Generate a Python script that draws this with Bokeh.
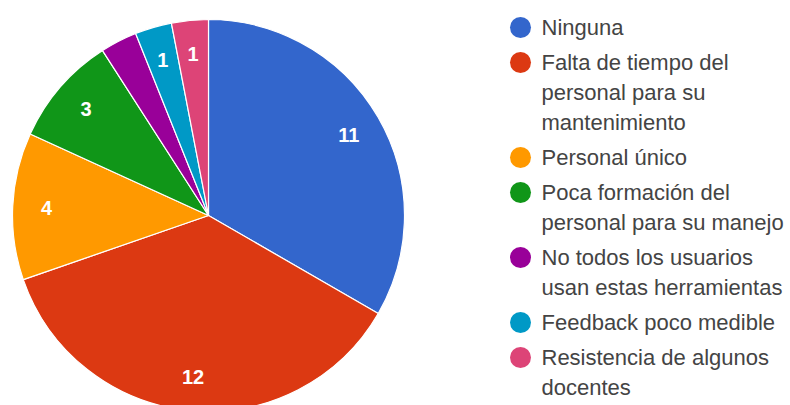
import math
from bokeh.plotting import figure
from bokeh.models import Range1d, ColumnDataSource
from bokeh.embed import file_html
from bokeh.resources import INLINE
from bokeh.core.properties import value

# ---- data ----
categories = [
    "Ninguna",
    "Falta de tiempo del personal para su mantenimiento",
    "Personal único",
    "Poca formación del personal para su manejo",
    "No todos los usuarios usan estas herramientas",
    "Feedback poco medible",
    "Resistencia de algunos docentes",
]
legend_lines = [
    ["Ninguna"],
    ["Falta de tiempo del", "personal para su", "mantenimiento"],
    ["Personal único"],
    ["Poca formación del", "personal para su manejo"],
    ["No todos los usuarios", "usan estas herramientas"],
    ["Feedback poco medible"],
    ["Resistencia de algunos", "docentes"],
]
values = [11, 12, 4, 3, 1, 1, 1]
slice_labels = ["11", "12", "4", "3", "", "1", "1"]
colors = ["#3366cc", "#dc3912", "#ff9900", "#109618", "#990099", "#0099c6", "#dd4477"]

# ---- layout ----
W, H = 790, 405
OFF = 0
def fx(px):
    return px - OFF
def fy(py):
    return H - (py - OFF)

cx, cy = fx(208), fy(215)
R = 196
LR = 162

p = figure(width=W, height=H, output_backend="svg", toolbar_location=None,
           x_axis_type=None, y_axis_type=None, min_border=0,
           x_range=Range1d(0, W), y_range=Range1d(0, H))
p.outline_line_color = None
p.grid.visible = False
p.background_fill_color = "white"

total = sum(values)
starts, ends, lx, ly = [], [], [], []
cum = 0.0
for v in values:
    a0 = cum / total * 2 * math.pi
    cum += v
    a1 = cum / total * 2 * math.pi
    starts.append(math.pi / 2 - a0)
    ends.append(math.pi / 2 - a1)
    mid = (a0 + a1) / 2
    lx.append(cx + LR * math.sin(mid))
    ly.append(cy + LR * math.cos(mid))

src = ColumnDataSource(dict(start=starts, end=ends, color=colors, lx=lx, ly=ly,
                            label=slice_labels, cat=categories))
p.wedge(x=cx, y=cy, radius=R, start_angle="start", end_angle="end",
        direction="clock", fill_color="color", line_color="white",
        line_width=1.2, source=src)
p.text(x="lx", y="ly", text="label", source=src, text_color="white",
       text_font=value("Liberation Sans"), text_font_size="20px",
       text_font_style="bold", text_align="center", text_baseline="middle")

# legend
mx, tx = fx(520), fx(541)
line_gap, entry_gap = 30, 35
y = 27
mk_x, mk_y, mk_c = [], [], []
t_x, t_y, t_s = [], [], []
for i, lines in enumerate(legend_lines):
    mk_x.append(mx); mk_y.append(fy(y)); mk_c.append(colors[i])
    for j, ln in enumerate(lines):
        t_x.append(tx); t_y.append(fy(y + j * line_gap)); t_s.append(ln)
    y += (len(lines) - 1) * line_gap + entry_gap

p.scatter(x=mk_x, y=mk_y, size=21, marker="circle", fill_color=mk_c, line_color=None)
p.text(x=t_x, y=t_y, text=t_s, text_color="#444444",
       text_font=value("Liberation Sans"), text_font_size="22px",
       text_align="left", text_baseline="middle")

open("out.html", "w").write(file_html(p, INLINE))
